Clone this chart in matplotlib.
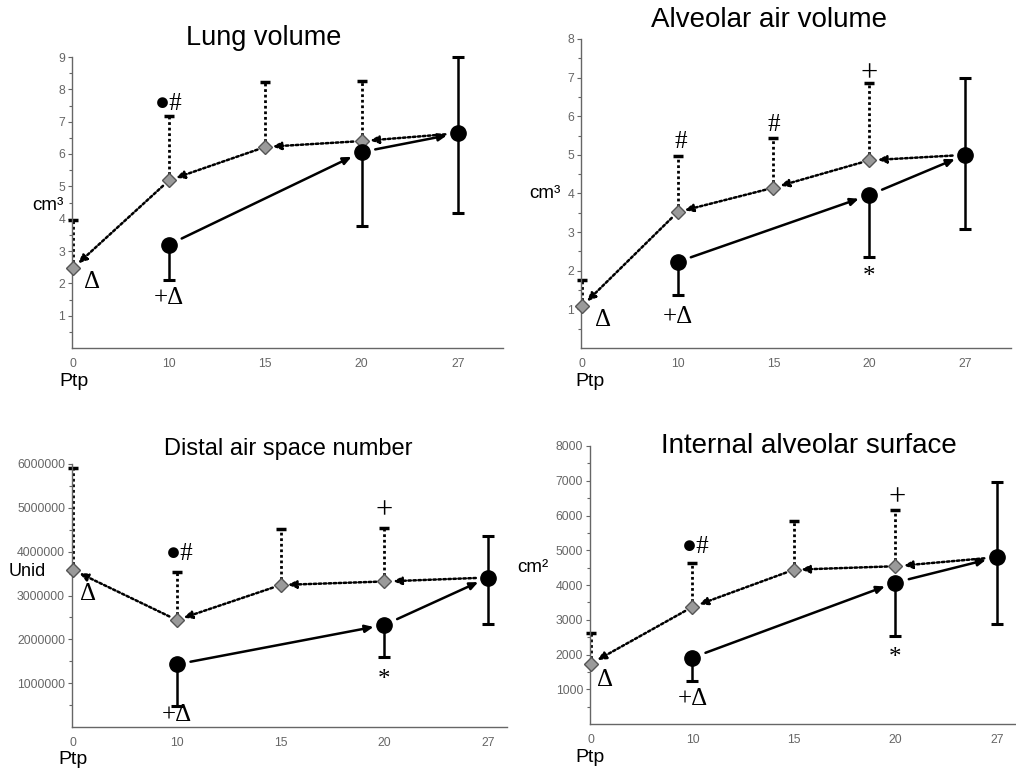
import matplotlib.pyplot as plt
import numpy as np

W, H = 1016, 769

ptp_labels = ["0", "10", "15", "20", "27"]
defl_idx = [0, 1, 2, 3]   # deflation limb (diamonds) at 0, 10, 15, 20
infl_idx = [1, 3, 4]      # inflation limb (circles) at 10, 20, 27

# Lung volume (cm3)
lung_defl = [2.47, 5.19, 6.22, 6.40]
lung_defl_hi = [3.95, 7.18, 8.22, 8.27]
lung_infl = [3.20, 6.06, 6.64]
lung_infl_lo = [2.11, 3.77, 4.19]
lung_infl_hi = [np.nan, np.nan, 9.00]

# Alveolar air volume (cm3)
alv_defl = [1.08, 3.52, 4.15, 4.86]
alv_defl_hi = [1.75, 4.98, 5.43, 6.85]
alv_infl = [2.23, 3.96, 5.00]
alv_infl_lo = [1.36, 2.36, 3.08]
alv_infl_hi = [np.nan, np.nan, 6.99]

# Distal air space number (units)
dist_defl = [3.58e6, 2.44e6, 3.24e6, 3.32e6]
dist_defl_hi = [5.92e6, 3.54e6, 4.51e6, 4.55e6]
dist_infl = [1.43e6, 2.33e6, 3.41e6]
dist_infl_lo = [0.49e6, 1.60e6, 2.36e6]
dist_infl_hi = [np.nan, np.nan, 4.36e6]

# Internal alveolar surface (cm2)
surf_defl = [1740, 3370, 4440, 4540]
surf_defl_hi = [2620, 4620, 5830, 6160]
surf_infl = [1910, 4070, 4800]
surf_infl_lo = [1250, 2530, 2880]
surf_infl_hi = [np.nan, np.nan, 6950]

SANS = "Liberation Sans"
SERIF = ["Liberation Serif", "DejaVu Sans"]
DOT = (0, (1, 1))
# small vertical nudges (points) so glyphs sit where they do in the original
NUDGE = {"*": -6, "+": -1.5}
MARK_SIZE = {"+": 22}


def px_rect(left, top, right, bottom):
    return [left / W, 1 - bottom / H, (right - left) / W, (bottom - top) / H]


def fig_text(fig, x, y, s, **kw):
    fig.text(x / W, 1 - y / H, s, **kw)


def arrow(ax, src, dst, dotted, sa, sb):
    ax.annotate(
        "", xy=dst, xytext=src,
        arrowprops=dict(
            arrowstyle="-|>,head_length=0.45,head_width=0.2",
            mutation_scale=11,
            lw=1.8,
            color="black",
            linestyle=DOT if dotted else "-",
            shrinkA=sa, shrinkB=sb,
        ),
        annotation_clip=False,
    )


def draw_panel(fig, rect, xmax, ymax, yticks, ytick_labels, minor,
               defl, defl_hi, infl, infl_lo, infl_hi, marks):
    ax = fig.add_axes(px_rect(*rect))
    ax.set_xlim(-0.01, xmax)
    ax.set_ylim(0, ymax)

    for s in ["top", "right"]:
        ax.spines[s].set_visible(False)
    for s in ["left", "bottom"]:
        ax.spines[s].set_color("#666666")
        ax.spines[s].set_linewidth(1.0)

    ax.set_yticks(yticks, ytick_labels)
    ax.set_yticks(minor, minor=True)
    ax.set_xticks(range(len(ptp_labels)), ptp_labels)
    ax.tick_params(axis="y", which="both", length=3, width=0.8, color="#666666",
                   labelsize=8.8, labelcolor="#666666", pad=2)
    ax.tick_params(axis="y", which="minor", length=2)
    ax.tick_params(axis="x", length=0, labelsize=8.8, labelcolor="#666666", pad=7)
    for lab in ax.get_xticklabels() + ax.get_yticklabels():
        lab.set_family(SANS)

    dx = np.array(defl_idx, dtype=float)
    ix = np.array(infl_idx, dtype=float)
    defl = np.array(defl, dtype=float)
    infl = np.array(infl, dtype=float)

    # error bars
    ax.vlines(dx, defl, defl_hi, colors="black", linestyles=DOT, lw=2.0,
              zorder=2, clip_on=False)
    ax.plot(dx, defl_hi, ls="none", marker="_", ms=7, mew=2.5, color="black",
            zorder=2, clip_on=False)
    ax.vlines(ix, infl_lo, infl, colors="black", lw=1.8, zorder=2, clip_on=False)
    ax.plot(ix, infl_lo, ls="none", marker="_", ms=8, mew=2.2, color="black",
            zorder=2, clip_on=False)
    hi = np.array(infl_hi, dtype=float)
    ok = ~np.isnan(hi)
    ax.vlines(ix[ok], infl[ok], hi[ok], colors="black", lw=1.8, zorder=2,
              clip_on=False)
    ax.plot(ix[ok], hi[ok], ls="none", marker="_", ms=8, mew=2.2, color="black",
            zorder=2, clip_on=False)

    # inflation limb: 10 -> 20 -> 27
    for i in range(len(ix) - 1):
        arrow(ax, (ix[i], infl[i]), (ix[i + 1], infl[i + 1]), False, 10, 8)
    # deflation limb: 27 -> 20 -> 15 -> 10 -> 0
    arrow(ax, (ix[-1], infl[-1]), (dx[-1], defl[-1]), True, 9, 6)
    for i in range(len(dx) - 1, 0, -1):
        arrow(ax, (dx[i], defl[i]), (dx[i - 1], defl[i - 1]), True, 6, 5)

    ax.plot(dx, defl, ls="none", marker="D", ms=7, mfc="#9a9a9a", mec="#555555",
            mew=1.0, zorder=4, clip_on=False)
    ax.plot(ix, infl, ls="none", marker="o", ms=11, color="black", zorder=4,
            clip_on=False)

    for x, y, s in marks:
        ax.annotate(s, (x, y), xytext=(0, NUDGE.get(s, 0)),
                    textcoords="offset points", family=SERIF,
                    fontsize=MARK_SIZE.get(s, 18),
                    ha="center", va="center", zorder=5, annotation_clip=False)
    return ax


fig = plt.figure(figsize=(W / 100, H / 100), dpi=100)

draw_panel(fig, (72, 57, 503, 348), 4.47, 9,
           range(1, 10), [str(v) for v in range(1, 10)], np.arange(0.5, 9, 1),
           lung_defl, lung_defl_hi, lung_infl, lung_infl_lo, lung_infl_hi,
           [(1.0, 7.55, "●#"), (0.2, 2.05, "Δ"), (1.0, 1.55, "+Δ")])

draw_panel(fig, (581, 39, 1011, 348), 4.48, 8,
           range(1, 9), [str(v) for v in range(1, 9)], np.arange(0.5, 8, 1),
           alv_defl, alv_defl_hi, alv_infl, alv_infl_lo, alv_infl_hi,
           [(1.03, 5.34, "#"), (2.0, 5.77, "#"), (3.0, 7.15, "+"),
            (3.0, 2.06, "*"), (0.22, 0.73, "Δ"), (1.0, 0.79, "+Δ")])

draw_panel(fig, (72, 464, 507, 727), 4.18, 6e6,
           np.arange(1, 7) * 1e6, [str(v * 1000000) for v in range(1, 7)],
           np.arange(0.5, 6, 1) * 1e6,
           dist_defl, dist_defl_hi, dist_infl, dist_infl_lo, dist_infl_hi,
           [(1.03, 3.94e6, "●#"), (3.0, 4.97e6, "+"), (3.0, 1.26e6, "*"),
            (0.14, 3.04e6, "Δ"), (1.0, 0.27e6, "+Δ")])

draw_panel(fig, (590, 446, 1015, 724), 4.18, 8000,
           np.arange(1, 9) * 1000, [str(v * 1000) for v in range(1, 9)],
           np.arange(500, 8000, 1000),
           surf_defl, surf_defl_hi, surf_infl, surf_infl_lo, surf_infl_hi,
           [(1.03, 5100, "●#"), (3.02, 6560, "+"), (3.0, 2130, "*"),
            (0.14, 1280, "Δ"), (1.0, 710, "+Δ")])

# titles
fig_text(fig, 264, 38, "Lung volume", family=SANS, fontsize=19.5, ha="center", va="center")
fig_text(fig, 769, 20, "Alveolar air volume", family=SANS, fontsize=20, ha="center", va="center")
fig_text(fig, 288, 449, "Distal air space number", family=SANS, fontsize=17, ha="center", va="center")
fig_text(fig, 809, 446, "Internal alveolar surface", family=SANS, fontsize=20, ha="center", va="center")

# y labels
fig_text(fig, 48, 205, "cm³", family=SANS, fontsize=13.5, ha="center", va="center")
fig_text(fig, 545, 193, "cm³", family=SANS, fontsize=13.5, ha="center", va="center")
fig_text(fig, 27, 571, "Unid", family=SANS, fontsize=13, ha="center", va="center")
fig_text(fig, 533, 567, "cm²", family=SANS, fontsize=13.5, ha="center", va="center")

# x labels
for x, y in [(74, 382), (590, 382), (73, 760), (590, 757)]:
    fig_text(fig, x, y, "Ptp", family=SANS, fontsize=14, ha="center", va="center")

fig.savefig("out.png", dpi=100)
